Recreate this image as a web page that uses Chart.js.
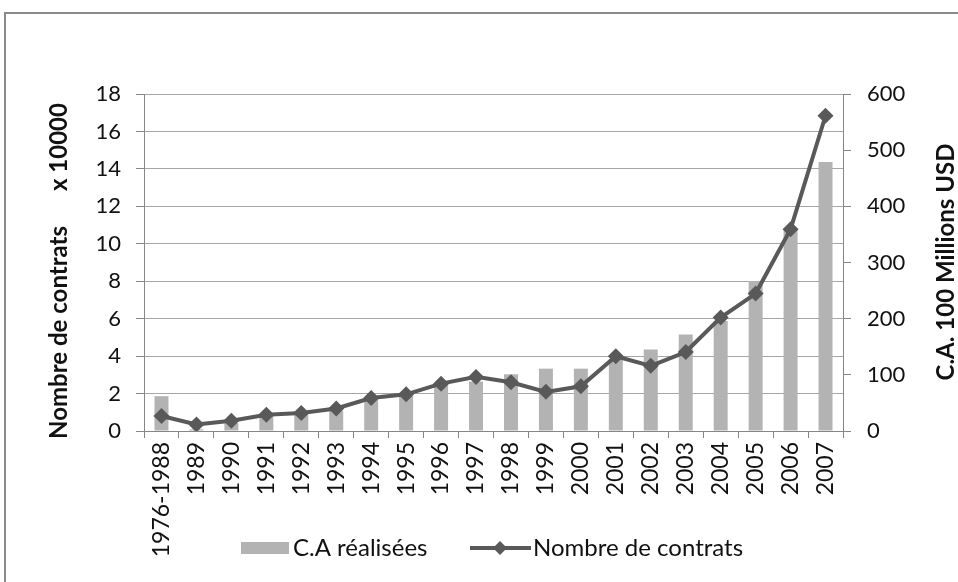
<!DOCTYPE html>
<html>
<head>
<meta charset="utf-8">
<script src="https://cdn.jsdelivr.net/npm/chart.js"></script>
<style>
  html, body { margin: 0; padding: 0; background: #fff; overflow: hidden; }
  .frame { position: absolute; left: 4px; top: 12px; width: 1000px; height: 700px; border: 2px solid #8a8a8a; }
  .wrap { position: absolute; left: 0; top: 0; width: 958px; height: 582px; }
</style>
</head>
<body>
<div class="frame"></div>
<div class="wrap"><canvas id="chart" width="958" height="582"></canvas></div>
<script>
const years = ['1976-1988', '1989', '1990', '1991', '1992', '1993', '1994', '1995', '1996', '1997',
               '1998', '1999', '2000', '2001', '2002', '2003', '2004', '2005', '2006', '2007'];
// C.A. in 100 millions USD (right axis)
const caRealisees = [62, 3, 14, 27, 30, 36, 56, 63, 85, 88, 101, 111, 111, 128, 145, 172, 196, 267, 358, 479];
// contracts x 10000 (left axis)
const nbContrats = [0.8, 0.35, 0.55, 0.87, 0.96, 1.2, 1.76, 1.96, 2.53, 2.89, 2.6, 2.09, 2.39, 3.99, 3.48, 4.22, 6.06, 7.34, 10.78, 16.84];

const FONT = 'Lato, "Open Sans", sans-serif';
const barColor = '#b3b3b3';
const lineColor = '#595959';
const gridColor = '#a6a6a6';
const axisColor = '#868686';

// titles and legend drawn by hand (right title reads bottom to top)
const extras = {
    id: 'extras',
    afterDraw(chart) {
        const ctx = chart.ctx;
        ctx.save();
        ctx.fillStyle = '#111';
        ctx.font = 'bold 24px ' + FONT;
        ctx.textAlign = 'center';
        ctx.textBaseline = 'middle';
        ctx.save();
        ctx.translate(59, 271);
        ctx.rotate(-Math.PI / 2);
        ctx.fillText('Nombre de contrats      x 10000', 0, 0);
        ctx.restore();
        ctx.save();
        ctx.translate(946, 262);
        ctx.rotate(-Math.PI / 2);
        ctx.fillText('C.A. 100 Millions USD', 0, 0);
        ctx.restore();

        // legend
        const ly = 548;
        ctx.font = '24px ' + FONT;
        ctx.textAlign = 'left';
        ctx.fillStyle = barColor;
        ctx.fillRect(241, ly - 6, 48, 12);
        ctx.fillStyle = '#111';
        ctx.fillText('C.A réalisées', 293, ly);
        ctx.strokeStyle = lineColor;
        ctx.lineWidth = 4;
        ctx.beginPath();
        ctx.moveTo(470, ly);
        ctx.lineTo(531, ly);
        ctx.stroke();
        ctx.fillStyle = lineColor;
        ctx.beginPath();
        ctx.moveTo(500, ly - 7);
        ctx.lineTo(507, ly);
        ctx.lineTo(500, ly + 7);
        ctx.lineTo(493, ly);
        ctx.closePath();
        ctx.fill();
        ctx.fillStyle = '#111';
        ctx.fillText('Nombre de contrats', 533, ly);
        ctx.restore();
    }
};

new Chart(document.getElementById('chart'), {
    data: {
        labels: years,
        datasets: [{
            type: 'line',
            label: 'Nombre de contrats',
            data: nbContrats,
            yAxisID: 'y',
            borderColor: lineColor,
            backgroundColor: lineColor,
            borderWidth: 4,
            pointStyle: 'rectRot',
            pointRadius: 8,
            pointBorderWidth: 0,
            tension: 0,
            order: 0
        }, {
            type: 'bar',
            label: 'C.A réalisées',
            data: caRealisees,
            yAxisID: 'y1',
            backgroundColor: barColor,
            barPercentage: 0.4,
            categoryPercentage: 1,
            order: 1
        }]
    },
    options: {
        responsive: false,
        animation: false,
        layout: { padding: { top: 94, right: 0, left: 0, bottom: 0 } },
        plugins: { legend: { display: false }, tooltip: { enabled: false } },
        scales: {
            x: {
                offset: true,
                grid: { offset: true, drawOnChartArea: false, color: axisColor, tickLength: 7 },
                border: { color: axisColor, width: 1 },
                ticks: { minRotation: 90, maxRotation: 90, autoSkip: false, padding: 4,
                         color: '#111', font: { family: FONT, size: 23 } },
                afterFit(s) { s.height = 151; }
            },
            y: {
                position: 'left',
                min: 0, max: 18,
                ticks: { stepSize: 2, padding: 15, color: '#111', font: { family: FONT, size: 22 } },
                grid: { color: gridColor, tickColor: axisColor, tickLength: 8 },
                border: { color: axisColor },
                afterFit(s) { s.width = 144; }
            },
            y1: {
                position: 'right',
                min: 0, max: 600,
                ticks: { stepSize: 100, padding: 16, color: '#111', font: { family: FONT, size: 22 } },
                grid: { drawOnChartArea: false, tickColor: axisColor, tickLength: 8 },
                border: { color: axisColor },
                afterFit(s) { s.width = 115; }
            }
        }
    },
    plugins: [extras]
});
</script>
</body>
</html>
